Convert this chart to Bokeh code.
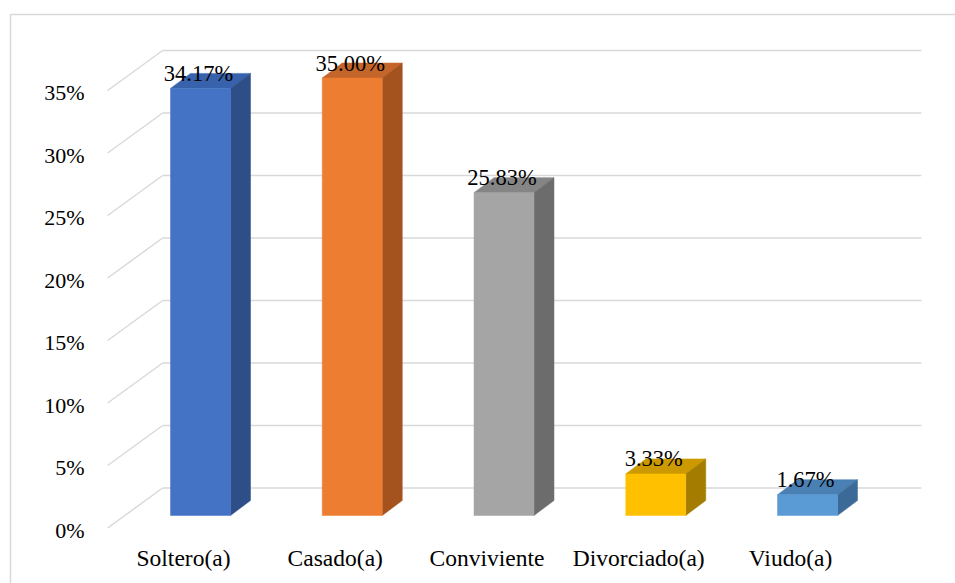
from bokeh.plotting import figure
from bokeh.models import ColumnDataSource
from bokeh.core.properties import value
from bokeh.embed import file_html
from bokeh.resources import INLINE

# ---- data ----
categories = ["Soltero(a)", "Casado(a)", "Conviviente", "Divorciado(a)", "Viudo(a)"]
percents = [34.17, 35.00, 25.83, 3.33, 1.67]
labels = ["34.17%", "35.00%", "25.83%", "3.33%", "1.67%"]
tick_values = [0, 5, 10, 15, 20, 25, 30, 35]
tick_labels = ["0%", "5%", "10%", "15%", "20%", "25%", "30%", "35%"]
front_colors = ["#4472C4", "#ED7D31", "#A5A5A5", "#FFC000", "#5B9BD5"]
top_colors = ["#3862AC", "#C4652A", "#858585", "#CC9A00", "#4A80B4"]
side_colors = ["#2E4E88", "#A4521E", "#6C6C6C", "#A47C00", "#3C6A98"]

W, H = 955, 583
PX_X = 151.75   # pixels per category
PX_Y = 12.5     # pixels per percent
X0 = 183.0      # pixel of category 0 on the front plane
Y0 = 527.5      # pixel of 0% on the front plane

def ux(px):
    return px / PX_X

def uy(px):
    return px / PX_Y

p = figure(width=W, height=H, output_backend="svg", toolbar_location=None,
           x_range=(-X0 / PX_X, (W - X0) / PX_X),
           y_range=(-(H - Y0) / PX_Y, Y0 / PX_Y),
           min_border=0)
p.axis.visible = False
p.grid.visible = False
p.outline_line_color = None
p.background_fill_color = "white"
p.border_fill_color = "white"

# 3D offsets (in data units)
back_dx, back_dy = ux(55), uy(40)     # floor depth
bar_dx, bar_dy = ux(17), uy(12.5)     # bar front position in depth
dep_dx, dep_dy = ux(20), uy(15)       # bar depth
half_w = ux(30)
left_edge, right_edge = -0.5, len(categories) - 0.5

# outer chart border
p.line([ux(10 - X0), ux(10 - X0), ux(W + 20 - X0)],
       [-uy(H + 20 - Y0), uy(Y0 - 14), uy(Y0 - 14)],
       line_color="#d9d9d9", line_width=1.5)

# gridlines: left side wall diagonals + back wall
for t in tick_values:
    p.line([left_edge, left_edge + back_dx], [t, t + back_dy],
           line_color="#d9d9d9", line_width=1.5)
    p.line([left_edge + back_dx, right_edge + back_dx], [t + back_dy, t + back_dy],
           line_color="#d9d9d9", line_width=1.5)

# bars
for i, v in enumerate(percents):
    L = i + bar_dx - half_w
    R = i + bar_dx + half_w
    B = bar_dy
    T = bar_dy + v
    p.patch([L, R, R + dep_dx, L + dep_dx], [T, T, T + dep_dy, T + dep_dy],
            fill_color=top_colors[i], line_color=top_colors[i], line_width=0.5)
    p.patch([R, R + dep_dx, R + dep_dx, R], [B, B + dep_dy, T + dep_dy, T],
            fill_color=side_colors[i], line_color=side_colors[i], line_width=0.5)
    p.quad(left=[L], right=[R], bottom=[B], top=[T],
           fill_color=front_colors[i], line_color=front_colors[i], line_width=0.5)

font = value("Liberation Serif")

# value labels
src_lab = ColumnDataSource(dict(
    x=[i + bar_dx - ux(2) for i in range(len(percents))],
    y=[v + bar_dy + dep_dy for v in percents],
    t=labels))
p.text(x="x", y="y", text="t", source=src_lab, text_font=font,
       text_font_size="22.5px", text_align="center", text_baseline="alphabetic",
       text_color="#000000")

# category labels
src_cat = ColumnDataSource(dict(
    x=list(range(len(categories))),
    y=[-uy(29.5)] * len(categories),
    t=categories))
p.text(x="x", y="y", text="t", source=src_cat, text_font=font,
       text_font_size="23.5px", text_align="center", text_baseline="middle",
       text_color="#000000")

# y tick labels
src_tick = ColumnDataSource(dict(
    x=[ux(84 - X0)] * len(tick_values),
    y=[t - uy(2) for t in tick_values],
    t=tick_labels))
p.text(x="x", y="y", text="t", source=src_tick, text_font=font,
       text_font_size="22px", text_align="right", text_baseline="middle",
       text_color="#000000")

open("out.html", "w").write(file_html(p, INLINE))
